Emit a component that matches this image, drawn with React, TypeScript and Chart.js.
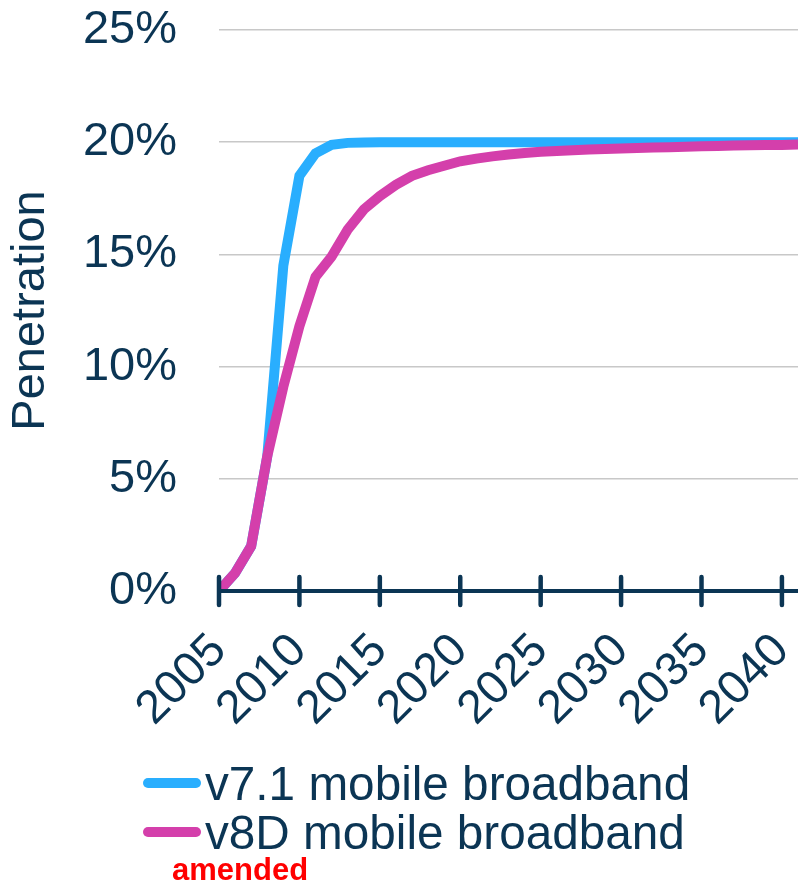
import React, { useEffect, useRef } from "react";
import { Chart, registerables } from "chart.js";

Chart.register(...registerables);

// Years on the horizontal axis
const years = [
  2005, 2006, 2007, 2008, 2009, 2010, 2011, 2012, 2013, 2014,
  2015, 2016, 2017, 2018, 2019, 2020, 2021, 2022, 2023, 2024,
  2025, 2026, 2027, 2028, 2029, 2030, 2031, 2032, 2033, 2034,
  2035, 2036, 2037, 2038, 2039, 2040, 2041,
];

// Labelled years on the x axis
const tickYears = [2005, 2010, 2015, 2020, 2025, 2030, 2035, 2040];

// Labelled penetration levels on the y axis
const yTickValues = [0, 5, 10, 15, 20, 25];

// Penetration (%) for each forecast version
const v71Penetration = [
  0, 0.8, 2.0, 6.0, 14.5, 18.5, 19.5, 19.88, 19.97, 19.99,
  20, 20, 20, 20, 20, 20, 20, 20, 20, 20,
  20, 20, 20, 20, 20, 20, 20, 20, 20, 20,
  20, 20, 20, 20, 20, 20, 20,
];

const v8dPenetration = [
  0, 0.8, 2.0, 6.0, 9.1, 11.8, 14.0, 14.9, 16.1, 17.0,
  17.6, 18.1, 18.5, 18.75, 18.95, 19.15, 19.27, 19.37, 19.45, 19.52,
  19.57, 19.61, 19.64, 19.67, 19.7, 19.72, 19.74, 19.76, 19.78, 19.8,
  19.82, 19.83, 19.85, 19.86, 19.87, 19.88, 19.9,
];

const seriesNames = ["v7.1 mobile broadband", "v8D mobile broadband"];
const seriesColors = ["#29aefe", "#d43fab"];
const seriesValues = [v71Penetration, v8dPenetration];
const noteText = "amended";
const yAxisTitle = "Penetration";

const NAVY = "#0b3554";
const FONT = "'Liberation Sans', Arial, Helvetica, sans-serif";
const W = 798;
const H = 883;
const PLOT_TOP = 30;
const PLOT_BOTTOM = 591;
const PLOT_LEFT = 219;

// Thick x axis line with tick marks crossing it, drawn over the series
const axisPlugin = {
  id: "crossingAxis",
  afterDatasetsDraw(chart: any) {
    const { ctx } = chart;
    const xs = chart.scales.x;
    const ys = chart.scales.y;
    const y0 = ys.getPixelForValue(0);
    ctx.save();
    ctx.strokeStyle = NAVY;
    ctx.lineWidth = 4;
    ctx.lineCap = "butt";
    ctx.beginPath();
    ctx.moveTo(xs.getPixelForValue(tickYears[0]), y0);
    ctx.lineTo(xs.right, y0);
    ctx.stroke();
    ctx.lineWidth = 4.5;
    ctx.lineCap = "round";
    ctx.beginPath();
    xs.ticks.forEach((t: any) => {
      const px = xs.getPixelForValue(t.value);
      ctx.moveTo(px, y0 - 14);
      ctx.lineTo(px, y0 + 14);
    });
    ctx.stroke();
    ctx.restore();
  },
};

export default function App() {
  const canvasRef = useRef<HTMLCanvasElement | null>(null);

  useEffect(() => {
    if (!canvasRef.current) return;
    const chart = new Chart(canvasRef.current, {
      type: "line",
      data: {
        datasets: seriesNames.map((name, i) => ({
          label: name,
          data: years.map((yr, j) => ({ x: yr, y: seriesValues[i][j] })),
          borderColor: seriesColors[i],
          backgroundColor: seriesColors[i],
          borderWidth: 10,
          pointRadius: 0,
          tension: 0,
          fill: false,
          order: i === 1 ? 0 : 1,
        })),
      },
      options: {
        animation: false,
        responsive: false,
        maintainAspectRatio: false,
        layout: { padding: { top: PLOT_TOP, left: 0, right: 0, bottom: 0 }, autoPadding: false },
        plugins: {
          legend: { display: false },
          tooltip: { enabled: false },
        },
        scales: {
          x: {
            type: "linear",
            min: years[0],
            max: years[years.length - 1],
            afterBuildTicks: (scale: any) => {
              scale.ticks = tickYears.map((v) => ({ value: v }));
            },
            afterFit: (scale: any) => {
              scale.height = H - PLOT_BOTTOM;
              scale.paddingLeft = 0;
              scale.paddingRight = 0;
              scale.paddingTop = 0;
              scale.paddingBottom = 0;
            },
            grid: { display: false, drawTicks: false },
            border: { display: false },
            ticks: {
              autoSkip: false,
              maxRotation: 45,
              minRotation: 45,
              padding: 52,
              color: NAVY,
              font: { family: FONT, size: 47, lineHeight: 0.01 },
              callback: (v: any) => String(v),
            },
          },
          y: {
            min: 0,
            max: 25,
            afterBuildTicks: (scale: any) => {
              scale.ticks = yTickValues.map((v) => ({ value: v }));
            },
            afterFit: (scale: any) => {
              scale.width = PLOT_LEFT;
              scale.paddingLeft = 0;
              scale.paddingRight = 0;
              scale.paddingTop = 0;
              scale.paddingBottom = 0;
            },
            grid: { color: "#c8c8c8", lineWidth: 1.5, drawTicks: false },
            border: { display: false },
            ticks: {
              padding: 42,
              color: NAVY,
              font: { family: FONT, size: 47 },
              callback: (v: any) => `${v}%`,
            },
            title: {
              display: true,
              text: yAxisTitle,
              color: NAVY,
              font: { family: FONT, size: 47, lineHeight: 1.2 },
              padding: { top: 3, bottom: 0 },
            },
          },
        },
      },
      plugins: [axisPlugin],
    });
    return () => chart.destroy();
  }, []);

  return (
    <div style={{ position: "absolute", left: 0, top: 0, width: W, height: H, overflow: "hidden", background: "#fff" }}>
      <canvas ref={canvasRef} width={W} height={H} style={{ display: "block", width: W, height: H }} />
      <div style={{ position: "absolute", left: 143, top: 758.5, fontFamily: FONT, fontSize: 47.7, color: NAVY }}>
        {seriesNames.map((name, i) => (
          <div key={name} style={{ display: "flex", alignItems: "center", height: 49, whiteSpace: "nowrap" }}>
            <span
              style={{
                display: "inline-block",
                width: 58,
                height: 10,
                borderRadius: 5,
                background: seriesColors[i],
                marginRight: 4,
              }}
            />
            <span>{name}</span>
          </div>
        ))}
      </div>
      <div
        style={{
          position: "absolute",
          left: 172,
          top: 853.8,
          fontFamily: FONT,
          fontSize: 31,
          lineHeight: "31px",
          fontWeight: "bold",
          color: "#ff0000",
          whiteSpace: "nowrap",
        }}
      >
        {noteText}
      </div>
    </div>
  );
}
